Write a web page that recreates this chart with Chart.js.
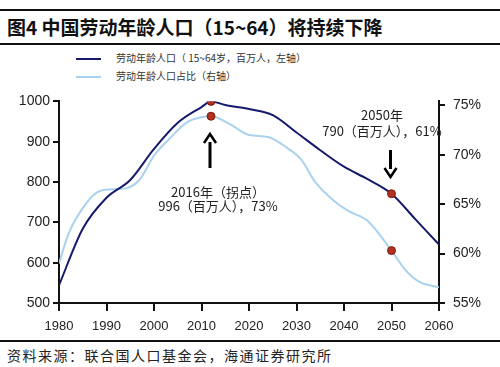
<!DOCTYPE html>
<html>
<head>
<meta charset="utf-8">
<script src="https://cdn.jsdelivr.net/npm/chart.js@4"></script>
<style>
  body { margin: 0; width: 500px; height: 367px; background: #fff; position: relative; overflow: hidden;
         font-family: "Noto Sans CJK SC", "Noto Sans", sans-serif; color: #111; }
  .rule { position: absolute; left: 0; width: 500px; background: #111; }
  #title { position: absolute; left: 7px; top: 13px; font-size: 19px; font-weight: bold; white-space: nowrap; }
  .lg { position: absolute; left: 76px; font-size: 10px; white-space: nowrap; color: #333; }
  .lg span { display: inline-block; width: 25px; height: 2px; vertical-align: middle; margin-right: 15px; }
  #source { position: absolute; left: 7px; top: 345px; font-size: 14px; white-space: nowrap; letter-spacing: 1.5px; color: #222; }
  #wrap { position: absolute; left: 0; top: 85px; width: 500px; height: 255px; }
</style>
</head>
<body>
<div class="rule" style="top:9px;height:2px"></div>
<div id="title">图4 中国劳动年龄人口（15~64）将持续下降</div>
<div class="rule" style="top:43px;height:2px"></div>
<div class="lg" style="top:50px"><span style="background:#161a6c"></span>劳动年龄人口（ 15~64岁，百万人，左轴）</div>
<div class="lg" style="top:68px"><span style="background:#a9d2ee"></span>劳动年龄人口占比（右轴）</div>
<div id="wrap"><canvas id="chart"></canvas></div>
<div class="rule" style="top:340px;height:2px"></div>
<div id="source">资料来源：联合国人口基金会，海通证券研究所</div>
<script>
// -------------------------------
// Data ---------------------------
// -------------------------------
const popYears = [1980, 1985, 1990, 1995, 2000, 2005, 2010, 2012, 2015, 2020, 2025, 2030, 2035, 2040, 2045, 2050, 2055, 2060];
const popValues = [544, 684, 761, 805, 882, 947, 986, 1000, 991, 981, 966, 923, 879, 838, 807, 771, 708, 645];

const shareYears = [1980, 1982, 1985, 1988, 1991, 1994, 1997, 2000, 2003, 2007, 2010, 2012, 2016, 2020, 2024, 2028, 2031, 2034, 2038, 2041, 2045, 2050, 2053, 2056, 2060];
const shareValues = [59.0, 62.0, 64.6, 66.2, 66.5, 66.6, 67.5, 69.9, 71.5, 73.3, 73.8, 73.9, 73.1, 72.0, 71.8, 70.7, 69.5, 67.2, 65.3, 64.3, 63.3, 60.3, 58.3, 57.1, 56.6];

const markYears = [2012, 2050];
const markPop = [1000, 771];
const markShare = [73.9, 60.3];

const xTicks = [1980, 1990, 2000, 2010, 2020, 2030, 2040, 2050, 2060];
const leftTicks = [500, 600, 700, 800, 900, 1000];
const rightTicks = [55, 60, 65, 70, 75];

const pts = (xs, ys) => xs.map((x, i) => ({ x: x, y: ys[i] }));

// -------------------------------
// Annotations (arrows + labels) --
// -------------------------------
const notes = [
  { year: 2012, from: 168, to: 134, lines: ["2016年（拐点）", "996（百万人），73%"], textY: [192, 206], textX: 218 },
  { year: 2050, from: 150, to: 177, lines: ["2050年", "790（百万人），61%"], textY: [115, 131], textX: 382 },
];

const notePlugin = {
  id: "notes",
  afterDatasetsDraw(chart) {
    const ctx = chart.ctx;
    const xs = chart.scales.x;
    const top = chart.canvas.getBoundingClientRect().top;
    ctx.save();
    notes.forEach((n) => {
      const x = xs.getPixelForValue(n.year) - 1;
      const y0 = n.from - top, y1 = n.to - top;
      const dir = y1 < y0 ? 1 : -1;
      ctx.strokeStyle = "#000";
      ctx.fillStyle = "#000";
      ctx.lineWidth = 3;
      ctx.beginPath();
      ctx.moveTo(x, y0);
      ctx.lineTo(x, y1 + dir * 8);
      ctx.stroke();
      ctx.lineWidth = 2.5;
      ctx.beginPath();
      ctx.moveTo(x - 6, y1 + dir * 9);
      ctx.lineTo(x, y1);
      ctx.lineTo(x + 6, y1 + dir * 9);
      ctx.stroke();
      ctx.font = "13px 'Noto Sans CJK SC', Arial, sans-serif";
      ctx.fillStyle = "#222";
      ctx.textAlign = "center";
      ctx.textBaseline = "middle";
      n.lines.forEach((t, i) => ctx.fillText(t, n.textX, n.textY[i] - top));
    });
    ctx.restore();
  },
};

const axisFont = { family: "Arial, 'Liberation Sans', sans-serif", size: 14 };

new Chart(document.getElementById("chart").getContext("2d"), {
  type: "line",
  data: {
    datasets: [
      {
        label: "劳动年龄人口",
        data: pts(popYears, popValues),
        borderColor: "#161a6c",
        borderWidth: 2,
        pointRadius: 0,
        cubicInterpolationMode: "monotone",
        yAxisID: "y",
        order: 2,
      },
      {
        label: "劳动年龄人口占比",
        data: pts(shareYears, shareValues),
        borderColor: "#a9d2ee",
        borderWidth: 2,
        pointRadius: 0,
        cubicInterpolationMode: "monotone",
        yAxisID: "y2",
        order: 3,
      },
      {
        data: pts(markYears, markPop),
        showLine: false,
        pointRadius: 4,
        pointBackgroundColor: "#b2311f",
        pointBorderColor: "#7a1d12",
        pointBorderWidth: 1,
        yAxisID: "y",
        order: 0,
      },
      {
        data: pts(markYears, markShare),
        showLine: false,
        pointRadius: 4,
        pointBackgroundColor: "#b2311f",
        pointBorderColor: "#7a1d12",
        pointBorderWidth: 1,
        yAxisID: "y2",
        order: 1,
      },
    ],
  },
  options: {
    responsive: true,
    maintainAspectRatio: false,
    animation: false,
    layout: { padding: { top: 11, left: 0, right: 0, bottom: 0 } },
    plugins: { legend: { display: false }, tooltip: { enabled: false } },
    scales: {
      x: {
        type: "linear",
        min: 1980,
        max: 2060,
        afterBuildTicks: (s) => { s.ticks = xTicks.map((v) => ({ value: v })); },
        afterFit: (s) => { s.height = 37; },
        border: { color: "#111", width: 2 },
        grid: { drawOnChartArea: false, drawTicks: true, tickLength: 8, color: "#111", lineWidth: 2 },
        ticks: { color: "#222", font: { family: axisFont.family, size: 13 }, padding: 8, maxRotation: 0, callback: (v) => String(v) },
      },
      y: {
        position: "left",
        min: 500,
        max: 1000,
        afterBuildTicks: (s) => { s.ticks = leftTicks.map((v) => ({ value: v })); },
        afterFit: (s) => { s.width = 59; },
        border: { color: "#111", width: 2 },
        grid: { drawOnChartArea: false, drawTicks: true, tickLength: 6, color: "#111", lineWidth: 2 },
        ticks: { color: "#222", font: axisFont, padding: 3, callback: (v) => String(v) },
      },
      y2: {
        position: "right",
        min: 55,
        max: 75.4,
        afterBuildTicks: (s) => { s.ticks = rightTicks.map((v) => ({ value: v })); },
        afterFit: (s) => { s.width = 61; },
        border: { color: "#111", width: 2 },
        grid: { drawOnChartArea: false, drawTicks: true, tickLength: 6, color: "#111", lineWidth: 2 },
        ticks: { color: "#222", font: axisFont, padding: 8, callback: (v) => v + "%" },
      },
    },
  },
  plugins: [notePlugin],
});
</script>
</body>
</html>
